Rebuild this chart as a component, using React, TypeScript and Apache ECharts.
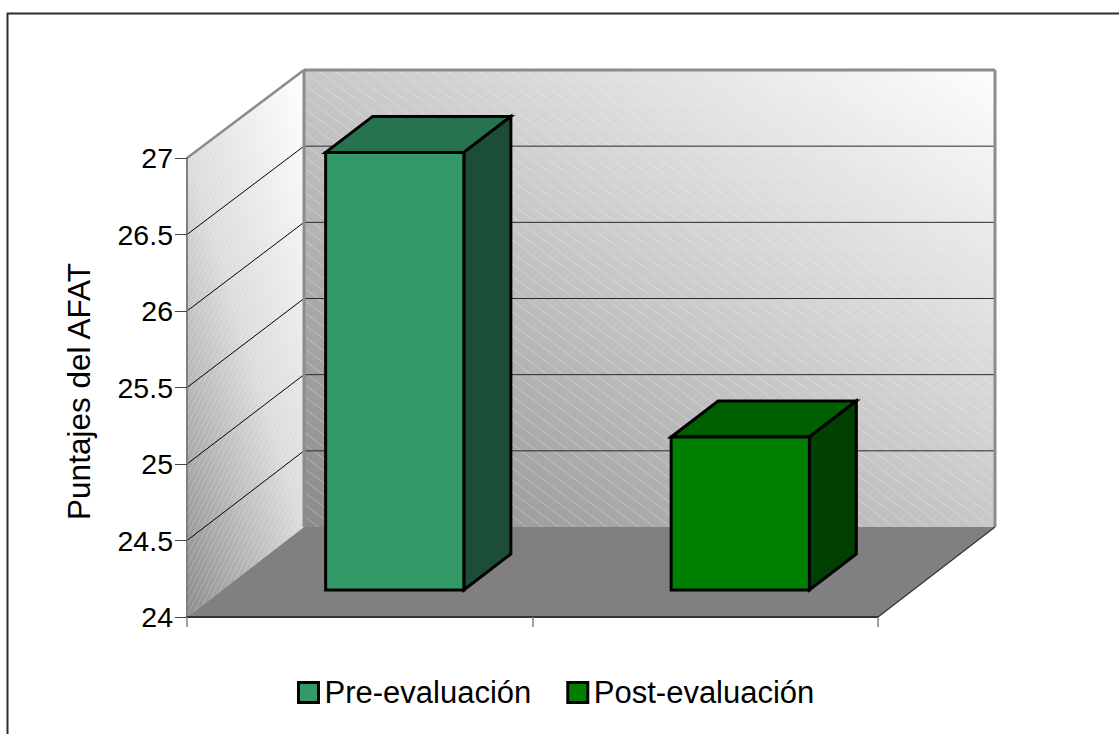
import React, { useEffect, useRef } from "react";
import * as echarts from "echarts";

const categories = ["Pre-evaluación", "Post-evaluación"];
const preValues = [26.86];
const postValues = [25.0];
const gridTicks = [24.5, 25, 25.5, 26, 26.5, 27];
const axisMin = 24;
const axisMax = 27;

// Projection of the depth axis: room floor depth, and the box offset/depth inside it
const ROOM = { dx: 117, dy: -90, backScale: 457 / 459 };
const BOX_FRONT = { dx: 35, dy: -27 };
const BOX_DEPTH = { dx: 47, dy: -36 };
const BOX_RATIO = 0.4;

type Pt = [number, number];

// Diagonal hatch tile laid over the wall gradients
function hatchTile(w: number, h: number, draw: (c: CanvasRenderingContext2D) => void) {
  const cv = document.createElement("canvas");
  cv.width = w;
  cv.height = h;
  const c = cv.getContext("2d") as CanvasRenderingContext2D;
  draw(c);
  return cv;
}

// Gradient running dark -> light whose mid stop passes through mid1 and mid2
function wallGradient(dark: Pt, mid1: Pt, mid2: Pt, light: Pt, stops: string[]) {
  const nx = mid1[1] - mid2[1];
  const ny = mid2[0] - mid1[0];
  const sign = (light[0] - dark[0]) * nx + (light[1] - dark[1]) * ny > 0 ? 1 : -1;
  const vx = nx * sign;
  const vy = ny * sign;
  const t = ((light[0] - dark[0]) * vx + (light[1] - dark[1]) * vy) / (vx * vx + vy * vy);
  return new echarts.graphic.LinearGradient(
    dark[0],
    dark[1],
    dark[0] + vx * t,
    dark[1] + vy * t,
    stops.map((color, i) => ({ offset: i / (stops.length - 1), color })),
    true
  );
}

function poly(points: Pt[], style: any, z2 = 0) {
  return { type: "polygon", shape: { points }, style, z2 };
}

function seg(a: Pt, b: Pt, stroke: string, lineWidth: number, z2 = 5) {
  return {
    type: "line",
    shape: { x1: a[0], y1: a[1], x2: b[0], y2: b[1] },
    style: { stroke, lineWidth, fill: "none" },
    z2,
  };
}

export default function App() {
  const ref = useRef<HTMLDivElement>(null);

  useEffect(() => {
    if (!ref.current) return;
    const chart = echarts.init(ref.current, undefined, { renderer: "svg" });

    const backHatch = hatchTile(16, 12, (c) => {
      c.strokeStyle = "rgba(255,255,255,0.28)";
      c.lineWidth = 1;
      c.beginPath();
      for (let i = -1; i <= 1; i++) {
        c.moveTo(i * 16, 0);
        c.lineTo(i * 16 + 16, 12);
      }
      c.stroke();
    });
    const sideHatch = hatchTile(5, 10, (c) => {
      c.strokeStyle = "rgba(255,255,255,0.22)";
      c.lineWidth = 1;
      c.beginPath();
      for (let i = -1; i <= 1; i++) {
        c.moveTo(i * 5 + 5, 0);
        c.lineTo(i * 5, 10);
      }
      c.stroke();
    });

    const renderRoom = (params: any, api: any) => {
      const cs = params.coordSys;
      const x0 = cs.x;
      const x1 = cs.x + cs.width;
      const bottom = cs.y + cs.height;
      const top = cs.y;
      const back = (p: Pt): Pt => [
        p[0] + ROOM.dx,
        bottom + ROOM.dy - (bottom - p[1]) * ROOM.backScale,
      ];

      const fl: Pt = [x0, bottom];
      const fr: Pt = [x1, bottom];
      const tl: Pt = [x0, top];
      const bl = back(fl);
      const br = back(fr);
      const btl = back(tl);
      const btr = back([x1, top]);

      const children: any[] = [];
      const backWall = [btl, btr, br, bl];
      const sideWall = [tl, btl, bl, fl];

      children.push(
        poly(backWall, {
          fill: wallGradient(bl, btl, br, btr, ["#8a8a8a", "#c8c8c8", "#fdfdfd"]),
        })
      );
      children.push(poly(backWall, { fill: { image: backHatch, repeat: "repeat" } }, 1));
      children.push(
        poly(sideWall, {
          fill: wallGradient(fl, tl, bl, btl, ["#8c8c8c", "#dcdcdc", "#ffffff"]),
        })
      );
      children.push(poly(sideWall, { fill: { image: sideHatch, repeat: "repeat" } }, 1));
      children.push(poly([fl, bl, br, fr], { fill: "#808080" }, 2));

      for (const tick of gridTicks) {
        const y = api.coord([0, tick])[1];
        const a: Pt = [x0, y];
        if (tick < axisMax) {
          children.push(seg(a, back(a), "#000000", 1));
          children.push(seg(back(a), back([x1, y]), "#2a2a2a", 1));
        }
      }

      // Wall outlines
      children.push(seg(tl, btl, "#8c8c8c", 2.5, 6));
      children.push(seg(btl, btr, "#8c8c8c", 3, 6));
      children.push(seg(btl, bl, "#8c8c8c", 3, 6));
      children.push(seg(btr, br, "#8c8c8c", 3, 6));
      children.push(seg(fr, br, "#333333", 1.2, 6));

      return { type: "group", children };
    };

    const renderBox = (colors: { front: string; top: string; side: string }) => (params: any, api: any) => {
      const cat = api.value(0);
      const topPt = api.coord([cat, api.value(1)]);
      const basePt = api.coord([cat, axisMin]);
      const w = api.size([1, 0])[0] * BOX_RATIO;
      const left = topPt[0] - w / 2 + BOX_FRONT.dx;
      const right = left + w;
      const yTop = topPt[1] + BOX_FRONT.dy;
      const yBase = basePt[1] + BOX_FRONT.dy;
      const d = BOX_DEPTH;
      const border = { stroke: "#000000", lineWidth: 3, lineJoin: "miter" };

      return {
        type: "group",
        children: [
          poly(
            [
              [left, yTop],
              [left + d.dx, yTop + d.dy],
              [right + d.dx, yTop + d.dy],
              [right, yTop],
            ],
            { fill: colors.top, ...border }
          ),
          poly(
            [
              [right, yTop],
              [right + d.dx, yTop + d.dy],
              [right + d.dx, yBase + d.dy],
              [right, yBase],
            ],
            { fill: colors.side, ...border }
          ),
          poly(
            [
              [left, yTop],
              [right, yTop],
              [right, yBase],
              [left, yBase],
            ],
            { fill: colors.front, ...border }
          ),
        ],
      };
    };

    chart.setOption({
      animation: false,
      backgroundColor: "#ffffff",
      textStyle: { fontFamily: "'Liberation Sans', Arial, sans-serif" },
      graphic: [
        {
          type: "rect",
          shape: { x: 7.5, y: 13.5, width: 1200, height: 800 },
          style: { fill: "none", stroke: "#2b2b2b", lineWidth: 2 },
          silent: true,
        },
      ],
      grid: { left: 187, right: 241, top: 158, bottom: 117, containLabel: false },
      xAxis: {
        type: "category",
        data: categories,
        z: 8,
        axisLine: { lineStyle: { color: "#333333", width: 2 } },
        axisTick: { show: true, length: 10, lineStyle: { color: "#808080", width: 1.5 } },
        axisLabel: { show: false },
        splitLine: { show: false },
      },
      yAxis: {
        type: "value",
        min: axisMin,
        max: axisMax,
        interval: 0.5,
        z: 8,
        name: "Puntajes del AFAT",
        nameLocation: "middle",
        nameRotate: 90,
        nameGap: 92,
        nameTextStyle: { fontSize: 31.5, color: "#000000", padding: [0, 8, 0, 0] },
        axisLine: { show: true, lineStyle: { color: "#808080", width: 2 } },
        axisTick: { show: true, length: 12, lineStyle: { color: "#444444", width: 1 } },
        axisLabel: { fontSize: 28.5, color: "#000000", margin: 14 },
        splitLine: { show: false },
      },
      legend: {
        left: 292,
        top: 672,
        itemWidth: 20,
        itemHeight: 20,
        itemGap: 35,
        icon: "rect",
        data: categories,
        selectedMode: false,
        itemStyle: { borderColor: "#000000", borderWidth: 3 },
        textStyle: { fontSize: 31, color: "#000000", padding: [0, 0, 0, 1] },
      },
      series: [
        {
          name: "room",
          type: "custom",
          z: 1,
          silent: true,
          clip: false,
          data: [[0, axisMin]],
          encode: { x: 0, y: 1 },
          renderItem: renderRoom,
        },
        {
          name: categories[0],
          type: "custom",
          z: 3,
          clip: false,
          itemStyle: { color: "#339966" },
          data: preValues.map((v) => [0, v]),
          encode: { x: 0, y: 1 },
          renderItem: renderBox({ front: "#339966", top: "#267350", side: "#1c4d36" }),
        },
        {
          name: categories[1],
          type: "custom",
          z: 3,
          clip: false,
          itemStyle: { color: "#008000" },
          data: postValues.map((v) => [1, v]),
          encode: { x: 0, y: 1 },
          renderItem: renderBox({ front: "#008000", top: "#006000", side: "#004000" }),
        },
      ],
    });

    return () => chart.dispose();
  }, []);

  return (
    <div
      ref={ref}
      style={{ position: "fixed", left: 0, top: 0, width: 1119, height: 734, background: "#fff" }}
    />
  );
}
